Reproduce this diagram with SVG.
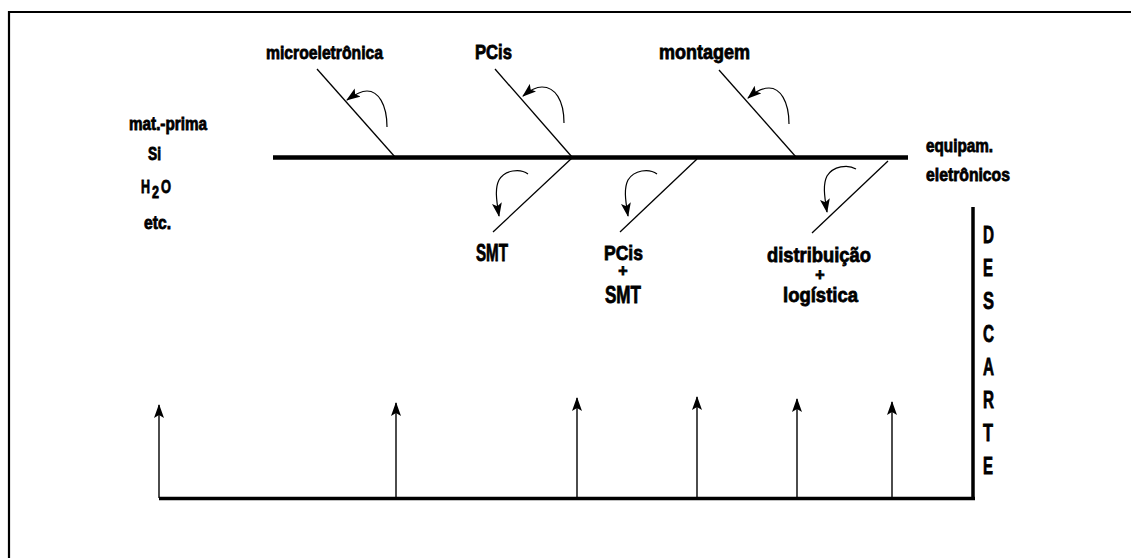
<svg xmlns="http://www.w3.org/2000/svg" width="1131" height="558" viewBox="0 0 1131 558">
<style>
  text { font-family: "Liberation Sans", Arial, sans-serif; font-weight: bold; fill: #000; stroke: #000; stroke-width: 0.8; }
  .bone { stroke: #000; stroke-width: 1.3; fill: none; }
  .curve { stroke: #000; stroke-width: 1.2; fill: none; marker-end: url(#ah); }
  .up { stroke: #000; stroke-width: 1.4; fill: none; marker-end: url(#ah); }
  .thick { stroke: #000; fill: none; }
</style>
<defs>
  <marker id="ah" viewBox="0 0 14 10" refX="13" refY="5" markerWidth="14" markerHeight="10" markerUnits="userSpaceOnUse" orient="auto">
    <path d="M0,0 L14,5 L0,10 L3,5 z" fill="#000"/>
  </marker>
</defs>
<rect width="1131" height="558" fill="#fff"/>
<g id="frame">
  <path class="thick" stroke-width="2.2" d="M9,558 L9,12 L1131,12"/>
</g>
<g id="connectors">
  <line class="thick" stroke-width="4.5" x1="273" y1="157.5" x2="908" y2="157.5"/>
  <line class="bone" x1="317" y1="69" x2="395" y2="157"/>
  <line class="bone" x1="495" y1="69" x2="572" y2="157"/>
  <line class="bone" x1="719" y1="70" x2="796" y2="157"/>
  <line class="bone" x1="572" y1="158" x2="493" y2="232"/>
  <line class="bone" x1="697" y1="159" x2="620" y2="232"/>
  <line class="bone" x1="888" y1="161" x2="812" y2="233"/>
  <path class="curve" d="M387,127 C387,104 378,91 367,91 C360,91 354,95 347,100"/>
  <path class="curve" d="M564,123 C564,100 555,87 542,87 C535,87 529,91 523,96"/>
  <path class="curve" d="M789,124 C789,101 780,88 769,88 C762,88 755,92 748,98"/>
  <path class="curve" d="M528,174 C520,168 505,170 499,180 C495,188 496,198 499,216"/>
  <path class="curve" d="M657,174 C649,168 634,170 628,180 C624,188 625,198 628,216"/>
  <path class="curve" d="M856,169 C848,164 833,166 827,176 C823,184 824,194 827,212"/>
  <line class="thick" stroke-width="3.5" x1="159" y1="498.5" x2="975" y2="498.5"/>
  <line class="thick" stroke-width="3.5" x1="973" y1="207" x2="973" y2="500"/>
  <line class="up" x1="159" y1="498" x2="159" y2="405"/>
  <line class="up" x1="396" y1="498" x2="396" y2="403"/>
  <line class="up" x1="577" y1="498" x2="577" y2="398"/>
  <line class="up" x1="697" y1="498" x2="697" y2="397"/>
  <line class="up" x1="797" y1="498" x2="797" y2="399"/>
  <line class="up" x1="892" y1="498" x2="892" y2="402"/>
</g>
<g id="node-microeletronica"><text x="266" y="59" font-size="19" textLength="117" lengthAdjust="spacingAndGlyphs">microeletrônica</text></g>
<g id="node-pcis-top"><text x="475" y="59" font-size="21" textLength="37" lengthAdjust="spacingAndGlyphs">PCis</text></g>
<g id="node-montagem"><text x="659" y="59" font-size="20" textLength="91" lengthAdjust="spacingAndGlyphs">montagem</text></g>
<g id="node-materia-prima">
  <text x="129" y="130" font-size="18" textLength="78" lengthAdjust="spacingAndGlyphs">mat.-prima</text>
  <text x="148" y="160" font-size="18" textLength="13" lengthAdjust="spacingAndGlyphs">Si</text>
  <text x="141" y="193" font-size="18" textLength="9" lengthAdjust="spacingAndGlyphs">H</text>
  <text x="152" y="198" font-size="17" textLength="7" lengthAdjust="spacingAndGlyphs">2</text>
  <text x="161" y="193" font-size="18" textLength="10" lengthAdjust="spacingAndGlyphs">O</text>
  <text x="144" y="229" font-size="18" textLength="27" lengthAdjust="spacingAndGlyphs">etc.</text>
</g>
<g id="node-equipam">
  <text x="926" y="152" font-size="18" textLength="67" lengthAdjust="spacingAndGlyphs">equipam.</text>
  <text x="926" y="181" font-size="18" textLength="84" lengthAdjust="spacingAndGlyphs">eletrônicos</text>
</g>
<g id="node-smt"><text x="476" y="261" font-size="23" textLength="32" lengthAdjust="spacingAndGlyphs">SMT</text></g>
<g id="node-pcis-smt">
  <text x="604" y="260" font-size="21" textLength="39" lengthAdjust="spacingAndGlyphs">PCis</text>
  <text x="623" y="276" font-size="16" text-anchor="middle">+</text>
  <text x="605" y="303" font-size="23" textLength="36" lengthAdjust="spacingAndGlyphs">SMT</text>
</g>
<g id="node-distribuicao">
  <text x="767" y="262" font-size="21" textLength="104" lengthAdjust="spacingAndGlyphs">distribuição</text>
  <text x="820" y="280" font-size="16" text-anchor="middle">+</text>
  <text x="783" y="302" font-size="21" textLength="75" lengthAdjust="spacingAndGlyphs">logística</text>
</g>
<g id="node-descarte" font-size="23">
  <text x="983" y="243" textLength="11" lengthAdjust="spacingAndGlyphs">D</text>
  <text x="983" y="276" textLength="10" lengthAdjust="spacingAndGlyphs">E</text>
  <text x="983" y="309" textLength="11" lengthAdjust="spacingAndGlyphs">S</text>
  <text x="983" y="342" textLength="11" lengthAdjust="spacingAndGlyphs">C</text>
  <text x="983" y="375" textLength="11" lengthAdjust="spacingAndGlyphs">A</text>
  <text x="983" y="408" textLength="11" lengthAdjust="spacingAndGlyphs">R</text>
  <text x="983" y="441" textLength="10" lengthAdjust="spacingAndGlyphs">T</text>
  <text x="983" y="474" textLength="10" lengthAdjust="spacingAndGlyphs">E</text>
</g>
</svg>
